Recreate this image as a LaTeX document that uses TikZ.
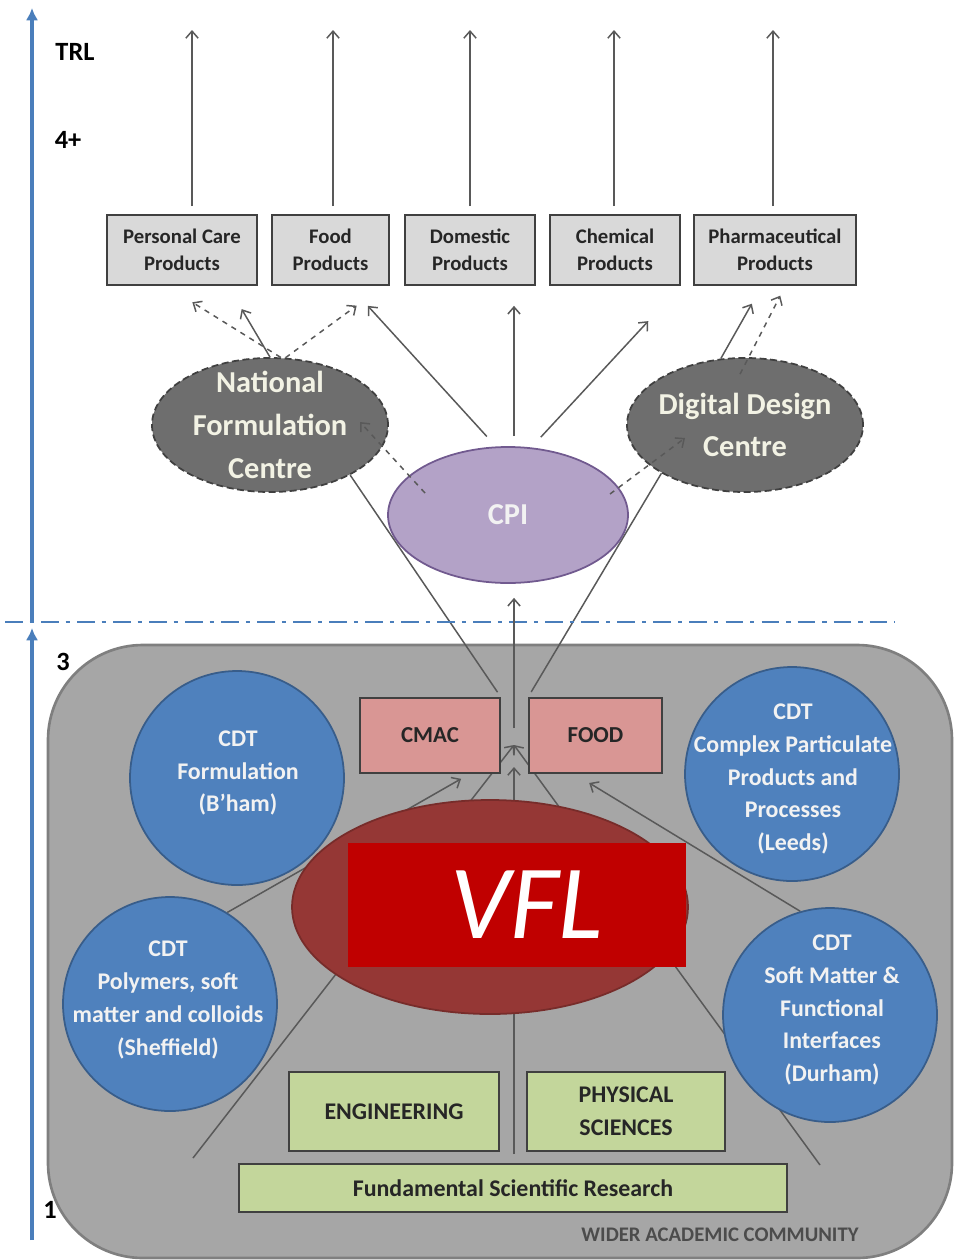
\documentclass[tikz,border=0pt]{standalone}
\usepackage{fontspec}
\setmainfont{Carlito}
\usetikzlibrary{positioning,shapes.geometric,arrows.meta,backgrounds,calc}
\definecolor{axisblue}{HTML}{4A7EBB}
\definecolor{flowgray}{HTML}{595959}
\definecolor{boxedge}{HTML}{404040}
\definecolor{prodgray}{HTML}{D9D9D9}
\definecolor{centregray}{HTML}{6E6E6E}
\definecolor{cream}{HTML}{F2F2E4}
\definecolor{cpililac}{HTML}{B3A2C7}
\definecolor{cpiedge}{HTML}{715A8F}
\definecolor{cdtblue}{HTML}{4F81BD}
\definecolor{cdtedge}{HTML}{385D8A}
\definecolor{labpink}{HTML}{D99694}
\definecolor{basegreen}{HTML}{C3D69B}
\definecolor{vflbrown}{HTML}{953735}
\definecolor{vfledge}{HTML}{772C2A}
\definecolor{vflred}{HTML}{C00000}
\definecolor{wacgray}{HTML}{A6A6A6}
\definecolor{wacedge}{HTML}{7F7F7F}

\begin{document}
\begin{tikzpicture}[thick,
    prod/.style={draw=boxedge, fill=prodgray, line width=1pt, minimum height=1.4cm,
      align=center, text=black!85, font=\fontsize{11.8}{15.3}\selectfont\bfseries},
    centre/.style={ellipse, draw=boxedge, fill=centregray, line width=1pt,
      dash pattern=on 4pt off 2pt, minimum width=4.72cm, minimum height=2.68cm},
    ctext/.style={text=cream, align=center, font=\fontsize{17.3}{24.4}\selectfont\bfseries},
    cdt/.style={circle, draw=cdtedge, fill=cdtblue, line width=1pt, minimum size=4.28cm},
    cdttext/.style={text=white!95!black, align=center, font=\fontsize{13.6}{18.7}\selectfont\bfseries},
    lab/.style={draw=boxedge, fill=labpink, line width=1pt, minimum width=2.8cm,
      minimum height=1.5cm, text=black!85, font=\fontsize{13}{16}\selectfont\bfseries},
    base/.style={draw=boxedge, fill=basegreen, line width=1pt, align=center,
      text=black!85, font=\fontsize{13.6}{19}\selectfont\bfseries},
    flow/.style={draw=flowgray, line width=0.85pt, -{Straight Barb[length=4pt,width=7pt]}},
    dflow/.style={flow, dashed},
    link/.style={draw=flowgray, line width=0.85pt},
    axis/.style={draw=axisblue, line width=2pt, -{Latex[length=7pt,width=7pt]}},
    divider/.style={draw=axisblue, line width=1.5pt, dash pattern=on 10pt off 4pt on 2.5pt off 4pt},
    trl/.style={text=black, font=\fontsize{15}{18}\selectfont\bfseries}]
  \useasboundingbox (0,0) rectangle (19.14,-25.2);

  % wider academic community
  \begin{scope}[on background layer]
    \draw[fill=wacgray, draw=wacedge, line width=1.5pt, rounded corners=1.9cm]
    (0.96,-12.9) rectangle (19.04,-25.16);
  \end{scope}
  \node[text=black!70, font=\fontsize{11.8}{13}\selectfont\bfseries] (wac) at (14.4,-24.7) {WIDER ACADEMIC COMMUNITY};

  % TRL scale
  \coordinate (axtop) at (0.64,-0.16);
  \coordinate (axmid) at (0.64,-12.44);
  \coordinate (axbot) at (0.64,-24.8);
  \draw[axis] (axbot) -- ([yshift=-0.12cm]axmid);
  \draw[axis] (axmid) -- (axtop);
  \coordinate (divl) at (0.1,-12.44);
  \coordinate (divr) at (17.9,-12.44);
  \path[divider] (divl) -- (divr);
  \node[trl] (trl) at (1.5,-1.04) {TRL};
  \node[trl] (four) at (1.36,-2.8) {4+};
  \node[trl] (three) at (1.26,-13.24) {3};
  \node[trl] (one) at (1.0,-24.2) {1};

  % products
  \node[prod, minimum width=3cm] (pcare) at (3.64,-5) {Personal Care\\Products};
  \node[prod, minimum width=2.34cm] (fprod) at (6.61,-5) {Food\\Products};
  \node[prod, minimum width=2.6cm] (dprod) at (9.4,-5) {Domestic\\Products};
  \node[prod, minimum width=2.6cm] (cprod) at (12.3,-5) {Chemical\\Products};
  \node[prod, minimum width=3.24cm] (phprod) at (15.5,-5) {Pharmaceutical\\Products};
  \foreach \b/\x in {pcare/3.84, fprod/6.66, dprod/9.4, cprod/12.28, phprod/15.46}{
    \coordinate (\b-out) at (\x,-0.6);
    \draw[flow, shorten <=0.16cm] (\b.north -| \b-out) -- (\b-out);
  }

  % centres
  \node[centre] (nfc) at (5.4,-8.5) {};
  \node[ctext] (nfctext) at (nfc) {National\\Formulation\\Centre};
  \node[centre] (ddc) at (14.9,-8.5) {};
  \node[ctext] (ddctext) at (ddc) {Digital Design\\Centre};
  \node[ellipse, draw=cpiedge, fill=cpililac, line width=1pt,
    minimum width=4.8cm, minimum height=2.72cm] (cpi) at (10.16,-10.3) {};
  \node[ctext, text=white!95!black] (cpitext) at (cpi) {CPI};

  % labs and CDTs
  \node[lab] (cmac) at (8.6,-14.71) {CMAC};
  \node[lab, minimum width=2.66cm] (foodlab) at (11.91,-14.71) {FOOD};
  \coordinate (hub) at (10.28,-14.9);

  \node[cdt] (cdtf) at (4.74,-15.56) {};
  \node[cdttext] (cdtftext) at (4.76,-15.46) {CDT\\Formulation\\(B’ham)};
  \node[cdt] (cdtl) at (15.84,-15.48) {};
  \node[cdttext] (cdtltext) at (15.86,-15.58) {CDT\\Complex Particulate\\Products and\\Processes\\(Leeds)};
  \node[cdt] (cdtp) at (3.4,-20.08) {};
  \node[cdttext] (cdtptext) at (3.36,-20.0) {CDT\\Polymers, soft\\matter and colloids\\(Sheffield)};
  \node[cdt] (cdts) at (16.6,-20.3) {};
  \node[cdttext] (cdtstext) at (16.64,-20.2) {CDT\\Soft Matter \&\\Functional\\Interfaces\\(Durham)};

  \node[ellipse, draw=vfledge, fill=vflbrown, line width=1pt,
    minimum width=7.92cm, minimum height=4.28cm] (vfl) at (9.8,-18.14) {};
  \node[fill=vflred, minimum width=6.76cm, minimum height=2.48cm, text=white,
    font=\fontsize{60}{60}\selectfont\mdseries\itshape] (vflbox) at (10.34,-18.1) {\hspace*{0.4cm}VFL};

  \node[base, minimum width=4.2cm, minimum height=1.58cm] (eng) at (7.88,-22.23) {ENGINEERING};
  \node[base, minimum width=3.96cm, minimum height=1.58cm] (phys) at (12.52,-22.23) {PHYSICAL\\SCIENCES};
  \node[base, minimum width=10.96cm, minimum height=0.96cm] (fsr) at (10.26,-23.76) {Fundamental Scientific Research};
  \coordinate (lfoot) at (3.86,-23.16);
  \coordinate (rfoot) at (16.4,-23.3);

  % connectors behind the shapes
  \begin{scope}[on background layer]
    \path[link, shorten <=0.12cm] (cmac.north east) edge (nfc.-32)
    (foodlab.north west) edge (ddc.210);
    \draw[flow, shorten <=0.18cm, shorten >=0.44cm] (fsr.north -| hub) -- (hub);
    \draw[flow] (lfoot) -- (hub);
    \draw[flow] (rfoot) -- (hub);
    \draw[flow, shorten >=0.2cm] (cdtp.58) -- (cmac.-44);
    \draw[flow, shorten >=0.35cm] (cdts.106) -- (foodlab.-119);
  \end{scope}

  % CPI and centres to products
  \draw[flow, shorten <=0.34cm, shorten >=0.28cm] (hub) -- (hub |- cpi.south);
  \draw[flow, shorten <=0.27cm, shorten >=0.54cm] (cpi.100) -- (fprod.-62);
  \draw[flow, shorten <=0.2cm, shorten >=0.4cm] (cpi.north -| hub) -- (hub |- dprod.south);
  \draw[flow, shorten <=0.28cm, shorten >=0.96cm] (cpi.71) -- (cprod.south east);
  \draw[dflow, shorten >=0.62cm] (nfc.81) -- (pcare.-114);
  \draw[flow, shorten >=0.54cm] (nfc.north) -- (pcare.-38.5);
  \draw[dflow, shorten >=0.67cm] (nfc.77) -- (fprod.-34);
  \draw[flow, shorten >=0.41cm] (ddc.110) -- (phprod.-110);
  \draw[dflow, shorten >=0.22cm] ($(ddc.north)+(-0.1,-0.34)$) -- (phprod.-74);
  \draw[dflow] ($(cpi)+(-1.66,0.44)$) -- ($(nfc)+(1.8,0.06)$);
  \draw[dflow] ($(cpi)+(2.04,0.42)$) -- ($(ddc)+(-1.2,-0.26)$);
\end{tikzpicture}
\end{document}
